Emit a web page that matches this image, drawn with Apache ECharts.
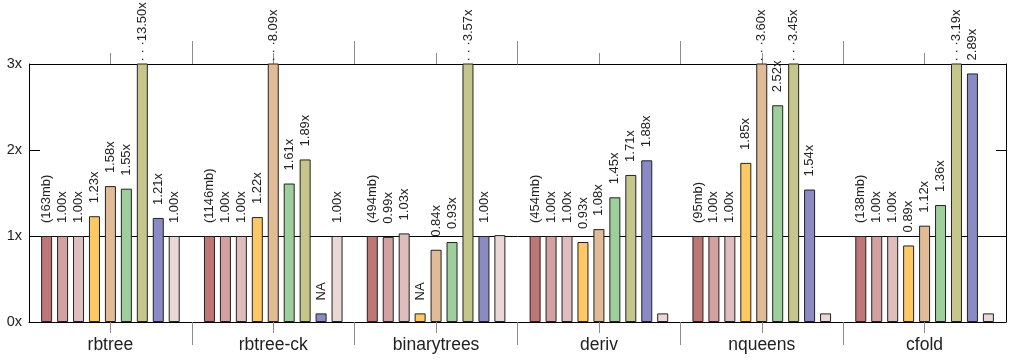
<!DOCTYPE html>
<html>
<head>
<meta charset="utf-8">
<script src="https://cdn.jsdelivr.net/npm/echarts@6/dist/echarts.min.js"></script>
<style>
  html, body { margin: 0; padding: 0; background: #fff; }
  #chart { width: 1010px; height: 360px; }
</style>
</head>
<body>
<div id="chart"></div>
<script>
// Benchmarks along the x axis
const categories = ['rbtree', 'rbtree-ck', 'binarytrees', 'deriv', 'nqueens', 'cfold'];
// Peak memory of the baseline run, printed above its bar
const memoryMb = [163, 1146, 494, 454, 95, 138];

// Relative memory per configuration (null = NA)
const s1 = [1.00, 1.00, 1.00, 1.00, 1.00, 1.00];
const s2 = [1.00, 1.00, 0.99, 1.00, 1.00, 1.00];
const s3 = [1.00, 1.00, 1.03, 1.00, 1.00, 1.00];
const s4 = [1.23, 1.22, null, 0.93, 1.85, 0.89];
const s5 = [1.58, 8.09, 0.84, 1.08, 3.60, 1.12];
const s6 = [1.55, 1.61, 0.93, 1.45, 2.52, 1.36];
const s7 = [13.50, 1.89, 3.57, 1.71, 3.45, 3.19];
const s8 = [1.21, null, 1.00, 1.88, 1.54, 2.89];
const s9 = [1.00, 1.00, 1.01, null, null, null];
// Which values of the last configuration carry a label
const s9Labelled = [true, true, false, false, false, false];

// Value axis ticks
const yTicks = [0, 1, 2, 3];

const Y_MAX = yTicks[yTicks.length - 1];
const NA_STUB = 0.1;
const FONT = '"Liberation Sans", Arial, sans-serif';
const TEXT = '#222';
const TICK_GRAY = '#8c8c8c';

const seriesDefs = [
  { name: 'baseline', data: s1, color: '#bf7676' },
  { name: 'cfg-2', data: s2, color: '#d4a1a1' },
  { name: 'cfg-3', data: s3, color: '#e0bdbd' },
  { name: 'cfg-4', data: s4, color: '#fec865' },
  { name: 'cfg-5', data: s5, color: '#e0bb96' },
  { name: 'cfg-6', data: s6, color: '#9ecf9b' },
  { name: 'cfg-7', data: s7, color: '#c6c68c' },
  { name: 'cfg-8', data: s8, color: '#8a8bc5' },
  { name: 'cfg-9', data: s9, color: '#ecd7d7', labelled: s9Labelled }
];

function labelText(seriesIdx, dataIdx) {
  const v = seriesDefs[seriesIdx].data[dataIdx];
  if (seriesIdx === 0) return '(' + memoryMb[dataIdx] + 'mb)';
  if (v === null) return 'NA';
  if (v > Y_MAX) return '· · ·' + v.toFixed(2) + 'x';
  return v.toFixed(2) + 'x';
}

const series = seriesDefs.map((def, si) => ({
  name: def.name,
  type: 'bar',
  xAxisIndex: 0,
  yAxisIndex: 0,
  barWidth: 11,
  barGap: '45%',
  itemStyle: { color: def.color, borderColor: '#222', borderWidth: 1 },
  label: {
    show: true,
    position: 'top',
    distance: 13,
    rotate: 90,
    align: 'left',
    verticalAlign: 'middle',
    fontFamily: FONT,
    fontSize: 13,
    color: TEXT,
    formatter: p => labelText(si, p.dataIndex)
  },
  data: def.data.map((v, ci) => {
    const item = { value: v === null ? NA_STUB : v };
    const shown = def.labelled ? def.labelled[ci] : true;
    if (!shown) item.label = { show: false };
    else if (v !== null && v > Y_MAX) item.label = { distance: 2 };
    return item;
  })
}));

// Helper positions at half-band steps, used for the long group-boundary ticks
const halfSteps = Array.from({ length: categories.length * 2 + 1 }, (_, i) => String(i));
const boundaryTick = (idx) => idx > 0 && idx < halfSteps.length - 1 && idx % 2 === 0;

const chart = echarts.init(document.getElementById('chart'), null, { renderer: 'canvas' });
chart.setOption({
  animation: false,
  backgroundColor: '#fff',
  grid: { left: 29, right: 4, top: 64, bottom: 38 },
  xAxis: [
    {
      type: 'category',
      position: 'bottom',
      data: categories,
      axisLine: { show: true, lineStyle: { color: '#000', width: 1 } },
      axisTick: { show: true, alignWithLabel: true, length: 11, lineStyle: { color: TICK_GRAY } },
      axisLabel: { fontFamily: FONT, fontSize: 17.5, color: TEXT, margin: 14 },
      splitLine: { show: false }
    },
    {
      type: 'category',
      position: 'bottom',
      data: halfSteps,
      boundaryGap: false,
      axisLine: { show: false },
      axisTick: { show: true, length: 23, interval: boundaryTick, lineStyle: { color: TICK_GRAY } },
      axisLabel: { show: false },
      splitLine: { show: false }
    },
    {
      type: 'category',
      position: 'top',
      data: categories,
      axisLine: { show: false },
      axisTick: { show: true, alignWithLabel: true, length: 11, lineStyle: { color: TICK_GRAY } },
      axisLabel: { show: false },
      splitLine: { show: false }
    },
    {
      type: 'category',
      position: 'top',
      data: halfSteps,
      boundaryGap: false,
      axisLine: { show: false },
      axisTick: { show: true, length: 23, interval: boundaryTick, lineStyle: { color: TICK_GRAY } },
      axisLabel: { show: false },
      splitLine: { show: false }
    }
  ],
  yAxis: [
    {
      type: 'value',
      position: 'left',
      min: yTicks[0],
      max: Y_MAX,
      interval: 1,
      axisLine: { show: true, lineStyle: { color: '#000', width: 1 } },
      axisTick: { show: true, inside: true, length: 11, lineStyle: { color: '#000' } },
      axisLabel: { fontFamily: FONT, fontSize: 14.5, color: TEXT, margin: 7, formatter: '{value}x' },
      splitLine: {
        show: true,
        lineStyle: { color: ['#000', '#000', 'rgba(0,0,0,0)', '#000'], width: 1 }
      }
    },
    {
      type: 'value',
      position: 'right',
      min: yTicks[0],
      max: Y_MAX,
      interval: 1,
      axisLine: { show: true, lineStyle: { color: '#000', width: 1 } },
      axisTick: { show: true, inside: true, length: 10, lineStyle: { color: '#000' } },
      axisLabel: { show: false },
      splitLine: { show: false }
    }
  ],
  series: series
});
</script>
</body>
</html>
